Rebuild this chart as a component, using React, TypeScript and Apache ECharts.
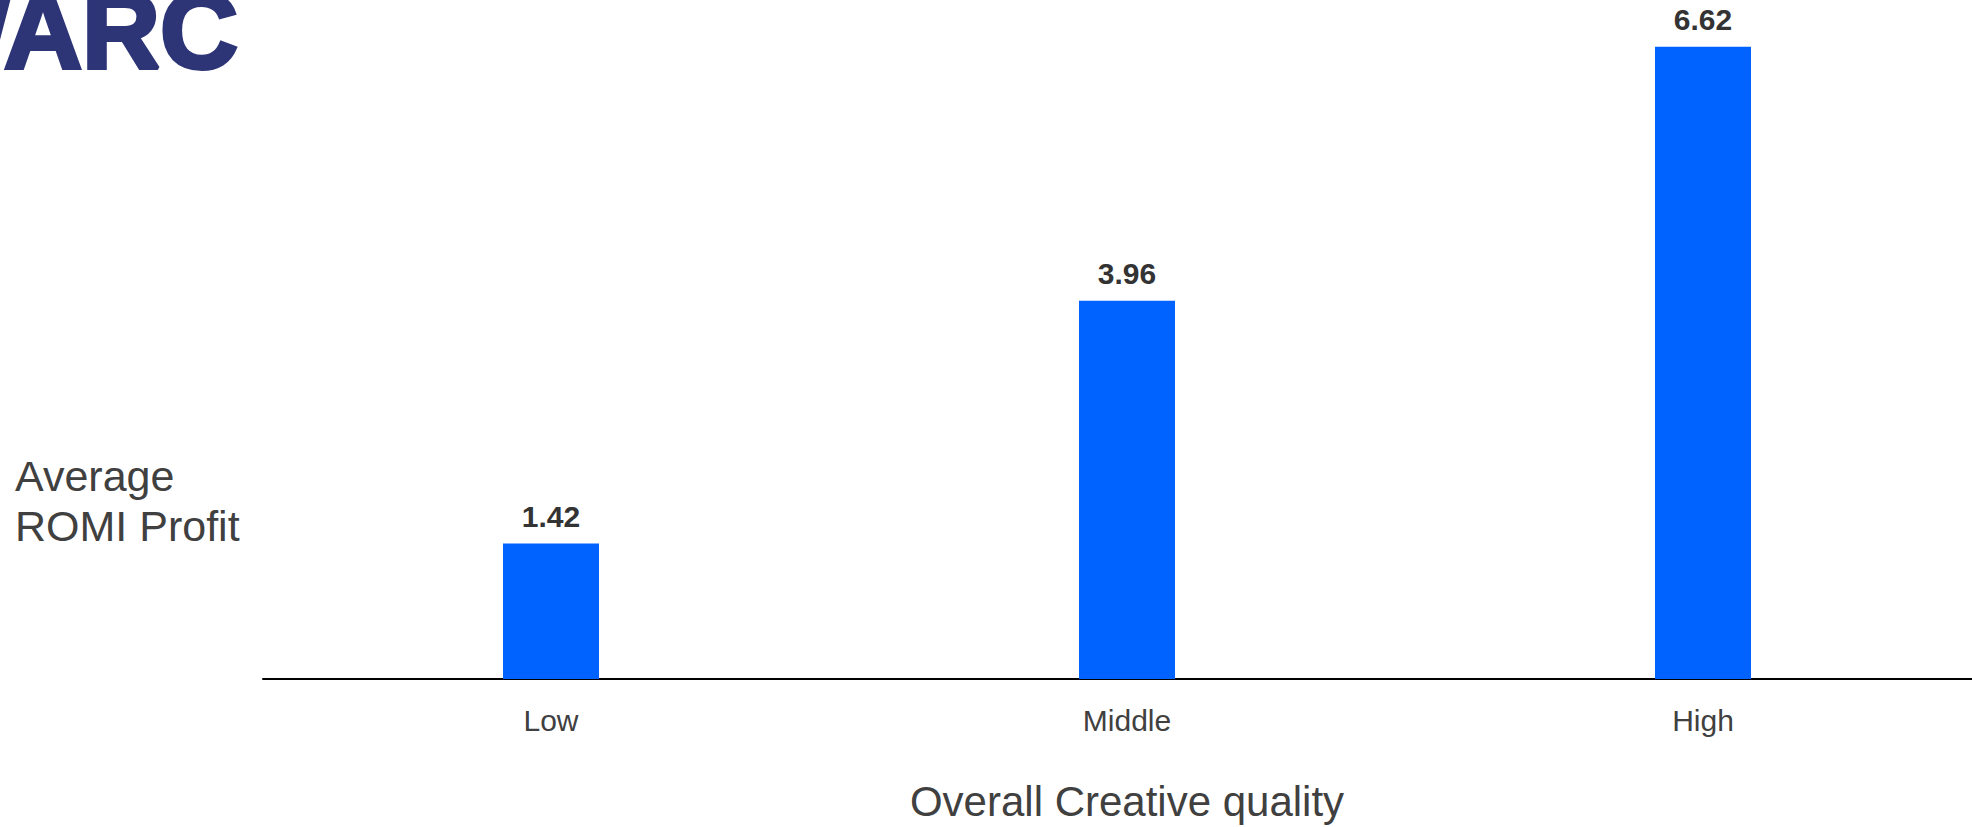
import React, { useEffect, useRef } from "react";
import * as echarts from "echarts";

// Creative quality buckets and their average ROMI profit
const categories: string[] = ["Low", "Middle", "High"];
const romiProfit: number[] = [1.42, 3.96, 6.62];

const axisTitle = "Overall Creative quality";
const valueTitle = "Average\nROMI Profit";
const brand = "WARC";

const FONT = '"Liberation Sans", Arial, Helvetica, sans-serif';

export default function App() {
  const ref = useRef<HTMLDivElement>(null);

  useEffect(() => {
    if (!ref.current) return;
    const chart = echarts.init(ref.current, undefined, { renderer: "svg" });
    chart.setOption({
      animation: false,
      backgroundColor: "#ffffff",
      // the plot runs past the right edge of the visible frame
      grid: { left: 263, right: 0, top: 10.5, bottom: 140.3, containLabel: false },
      xAxis: {
        type: "category",
        data: categories,
        boundaryGap: true,
        axisLine: { show: true, lineStyle: { color: "#000000", width: 2 } },
        axisTick: { show: false },
        axisLabel: {
          margin: 26,
          color: "#404040",
          fontSize: 30,
          fontFamily: FONT,
        },
        name: axisTitle,
        nameLocation: "middle",
        nameGap: 101,
        nameTextStyle: { color: "#404040", fontSize: 42, fontFamily: FONT },
      },
      yAxis: {
        type: "value",
        min: 0,
        max: 7,
        show: false,
        splitLine: { show: false },
      },
      series: [
        {
          type: "bar",
          data: romiProfit,
          barWidth: 96,
          itemStyle: { color: "#0062ff" },
          label: {
            show: true,
            position: "top",
            distance: 12,
            color: "#333333",
            fontSize: 30,
            fontWeight: "bold",
            fontFamily: FONT,
            formatter: (p: any) => Number(p.value).toFixed(2),
          },
        },
      ],
      graphic: [
        {
          type: "text",
          x: 15,
          y: 451,
          style: {
            text: valueTitle,
            fill: "#404040",
            font: `43px ${FONT}`,
            lineHeight: 50,
            align: "left",
            verticalAlign: "top",
          },
        },
        {
          type: "text",
          x: -92,
          y: 30,
          style: {
            text: brand,
            fill: "#2d3577",
            stroke: "#2d3577",
            lineWidth: 4,
            font: `bold 108px ${FONT}`,
            align: "left",
            verticalAlign: "middle",
          },
        },
      ],
    });
    return () => chart.dispose();
  }, []);

  return (
    <div
      style={{
        position: "fixed",
        left: 0,
        top: 0,
        width: 1972,
        height: 827,
        overflow: "hidden",
        background: "#fff",
      }}
    >
      <div ref={ref} style={{ width: 1991, height: 827 }} />
    </div>
  );
}
